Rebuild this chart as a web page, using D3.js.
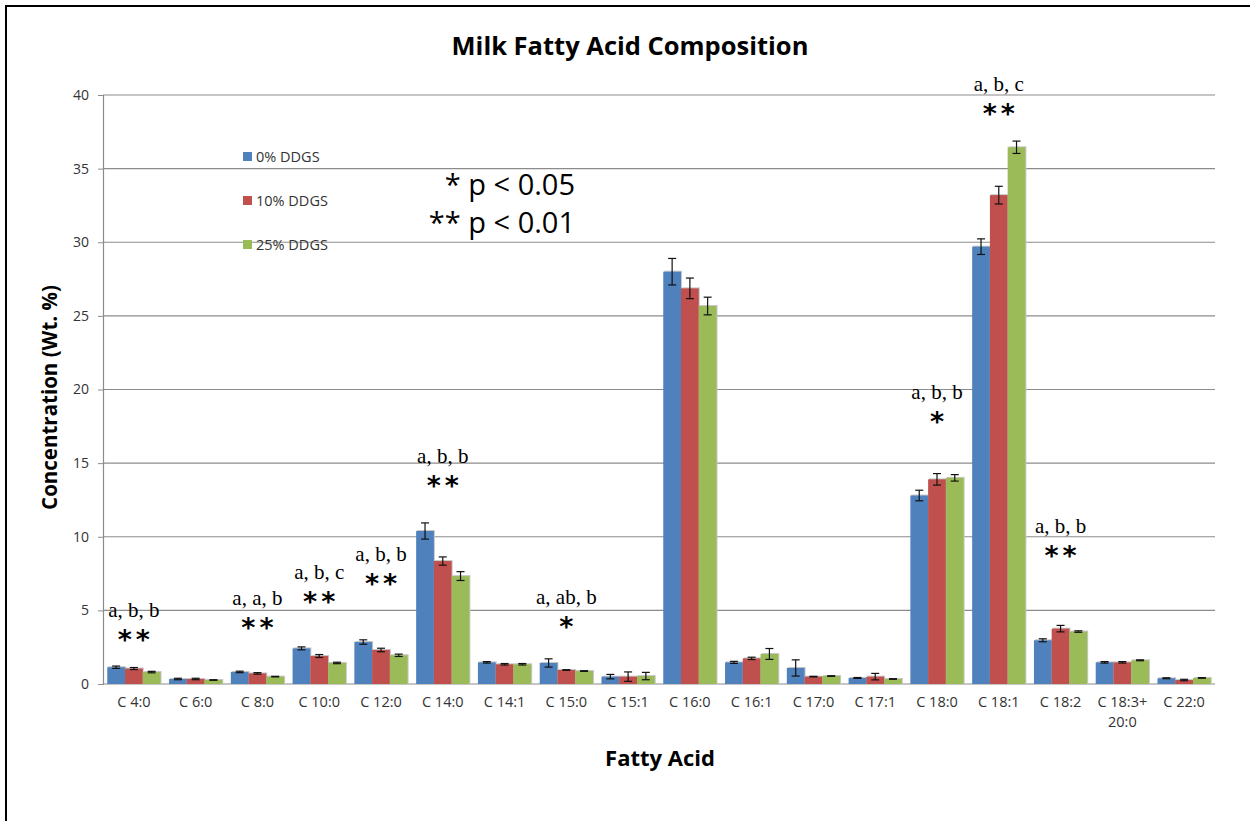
<!DOCTYPE html>
<html>
<head>
<meta charset="utf-8">
<script src="https://cdn.jsdelivr.net/npm/d3@7"></script>
<style>
    body { margin: 0; background: #fff; }
    svg { display: block; }
</style>
</head>
<body>
<div id="chart"></div>
<script>
const categories = ["C 4:0", "C 6:0", "C 8:0", "C 10:0", "C 12:0", "C 14:0", "C 14:1", "C 15:0", "C 15:1",
    "C 16:0", "C 16:1", "C 17:0", "C 17:1", "C 18:0", "C 18:1", "C 18:2", "C 18:3+\n20:0", "C 22:0"];
const series_names = ["0% DDGS", "10% DDGS", "25% DDGS"];
const series_colors = ["#4f81bd", "#c0504d", "#9bbb59"];

const values_0 = [1.14, 0.34, 0.82, 2.42, 2.85, 10.39, 1.47, 1.43, 0.5, 28.0, 1.47, 1.09, 0.41, 12.8, 29.7, 2.97, 1.47, 0.39];
const values_10 = [1.05, 0.34, 0.72, 1.9, 2.31, 8.35, 1.34, 0.95, 0.5, 26.87, 1.74, 0.5, 0.5, 13.9, 33.2, 3.76, 1.47, 0.27];
const values_25 = [0.81, 0.27, 0.5, 1.43, 1.95, 7.33, 1.34, 0.88, 0.54, 25.67, 2.04, 0.54, 0.34, 14.0, 36.45, 3.56, 1.61, 0.41];

const errors_0 = [0.08, 0.05, 0.05, 0.1, 0.15, 0.55, 0.05, 0.28, 0.15, 0.9, 0.07, 0.55, 0.03, 0.36, 0.53, 0.1, 0.05, 0.03];
const errors_10 = [0.07, 0.05, 0.05, 0.1, 0.12, 0.28, 0.05, 0.02, 0.32, 0.7, 0.08, 0.02, 0.22, 0.39, 0.6, 0.22, 0.05, 0.05];
const errors_25 = [0.05, 0.02, 0.02, 0.05, 0.08, 0.3, 0.05, 0.02, 0.25, 0.6, 0.37, 0.02, 0.02, 0.22, 0.42, 0.05, 0.03, 0.02];

const y_ticks = [0, 5, 10, 15, 20, 25, 30, 35, 40];

// significance letters, stars and the level (in Wt. %) where the letters sit
const annot_cats = ["C 4:0", "C 8:0", "C 10:0", "C 12:0", "C 14:0", "C 15:0", "C 18:0", "C 18:1", "C 18:2"];
const annot_letters = ["a, b, b", "a, a, b", "a, b, c", "a, b, b", "a, b, b", "a, ab, b", "a, b, b", "a, b, c", "a, b, b"];
const annot_stars = ["**", "**", "**", "**", "**", "*", "*", "**", "**"];
const annot_levels = [4.96, 5.77, 7.54, 8.76, 15.42, 5.84, 19.76, 40.68, 10.66];

const W = 1250, H = 821;
const margin = { top: 95, right: 35, bottom: 137, left: 103 };
const width = W - margin.left - margin.right;
const height = H - margin.top - margin.bottom;

const svg_root = d3.select("#chart").append("svg")
    .attr("width", W)
    .attr("height", H);

// outer chart border (cropped at right/bottom)
svg_root.append("rect")
    .attr("x", 6).attr("y", 6)
    .attr("width", W + 50).attr("height", H + 50)
    .attr("fill", "none")
    .attr("stroke", "#000")
    .attr("stroke-width", 2);

const svg = svg_root.append("g")
    .attr("transform", `translate(${margin.left},${margin.top})`);

const x = d3.scaleBand()
    .domain(categories)
    .range([0, width]);

const x_inner = d3.scaleBand()
    .domain(series_names)
    .range([0, x.bandwidth()])
    .paddingInner(0)
    .paddingOuter(0.24);

const y = d3.scaleLinear()
    .domain([0, 40])
    .range([height, 0]);

// gridlines
svg.append("g")
    .selectAll("line")
    .data(y_ticks.filter(d => d > 0))
    .enter().append("line")
    .attr("x1", 0).attr("x2", width)
    .attr("y1", d => y(d)).attr("y2", d => y(d))
    .attr("stroke", "#8c8c8c")
    .attr("stroke-width", 1.2);

// y axis
const y_axis = svg.append("g")
    .call(d3.axisLeft(y).tickValues(y_ticks).tickSize(5).tickPadding(9));
y_axis.select(".domain").attr("stroke", "#8c8c8c").attr("stroke-width", 1.2);
y_axis.selectAll(".tick line").attr("stroke", "#8c8c8c");
y_axis.selectAll("text")
    .style("font-family", "'Open Sans', sans-serif")
    .style("font-size", "14px")
    .style("fill", "#333");

// x axis line
svg.append("line")
    .attr("x1", 0).attr("x2", width)
    .attr("y1", height).attr("y2", height)
    .attr("stroke", "#8c8c8c")
    .attr("stroke-width", 1.2);

// x labels
const x_labels = svg.append("g")
    .selectAll("text")
    .data(categories)
    .enter().append("text")
    .attr("x", d => x(d) + x.bandwidth() / 2)
    .attr("y", height + 23)
    .attr("text-anchor", "middle")
    .style("font-family", "'Open Sans', sans-serif")
    .style("font-size", "14.5px")
    .style("fill", "#333");
x_labels.each(function (d) {
    const lines = d.split("\n");
    d3.select(this).selectAll("tspan")
        .data(lines)
        .enter().append("tspan")
        .attr("x", x(d) + x.bandwidth() / 2)
        .attr("dy", (l, i) => i === 0 ? 0 : 20)
        .text(l => l);
});

// bars
const all_values = [values_0, values_10, values_25];
const all_errors = [errors_0, errors_10, errors_25];
const bar_data = [];
categories.forEach((c, i) => {
    series_names.forEach((s, j) => {
        bar_data.push({ cat: c, series: s, idx: j, value: all_values[j][i], err: all_errors[j][i] });
    });
});

svg.selectAll(".bar-shadow")
    .data(bar_data)
    .enter().append("rect")
    .attr("class", "bar-shadow")
    .attr("x", d => x(d.cat) + x_inner(d.series) + 1)
    .attr("y", d => y(d.value) - 1)
    .attr("width", x_inner.bandwidth())
    .attr("height", d => height - y(d.value) + 1)
    .attr("fill", "#c8c8c8");

svg.selectAll(".bar")
    .data(bar_data)
    .enter().append("rect")
    .attr("class", "bar")
    .attr("x", d => x(d.cat) + x_inner(d.series))
    .attr("y", d => y(d.value))
    .attr("width", x_inner.bandwidth())
    .attr("height", d => height - y(d.value))
    .attr("fill", d => series_colors[d.idx]);

// error bars
const err_g = svg.append("g")
    .attr("stroke", "#111")
    .attr("stroke-width", 1.2);
bar_data.forEach(d => {
    const cx = x(d.cat) + x_inner(d.series) + x_inner.bandwidth() / 2;
    const y1 = y(d.value + d.err), y2 = y(d.value - d.err);
    err_g.append("line").attr("x1", cx).attr("x2", cx).attr("y1", y1).attr("y2", y2);
    err_g.append("line").attr("x1", cx - 4).attr("x2", cx + 4).attr("y1", y1).attr("y2", y1);
    err_g.append("line").attr("x1", cx - 4).attr("x2", cx + 4).attr("y1", y2).attr("y2", y2);
});

// significance annotations
annot_cats.forEach((c, i) => {
    const cx = x(c) + x.bandwidth() / 2;
    const ly = y(annot_levels[i]);
    svg.append("text")
        .attr("x", cx)
        .attr("y", ly + 6)
        .attr("text-anchor", "middle")
        .style("font-family", "'Liberation Serif', 'DejaVu Serif', serif")
        .style("font-size", "21px")
        .style("fill", "#000")
        .text(annot_letters[i]);
    svg.append("text")
        .attr("x", cx + 2)
        .attr("y", ly + 38)
        .attr("text-anchor", "middle")
        .style("font-family", "'DejaVu Sans', sans-serif")
        .style("font-weight", "bold")
        .style("font-size", "27px")
        .style("letter-spacing", "4px")
        .style("fill", "#000")
        .text(annot_stars[i]);
});

// legend
const legend = svg_root.append("g");
series_names.forEach((s, i) => {
    const ly = 157 + i * 44;
    legend.append("rect")
        .attr("x", 243).attr("y", ly - 5)
        .attr("width", 9).attr("height", 9)
        .attr("fill", series_colors[i]);
    legend.append("text")
        .attr("x", 256).attr("y", ly + 5)
        .style("font-family", "'Open Sans', sans-serif")
        .style("font-size", "14.5px")
        .style("fill", "#333")
        .text(s);
});

// p-value key
[["* p < 0.05", 195], ["** p < 0.01", 233]].forEach(([t, ty]) => {
    svg_root.append("text")
        .attr("x", 575).attr("y", ty)
        .attr("text-anchor", "end")
        .style("font-family", "'Open Sans', sans-serif")
        .style("font-size", "29px")
        .style("fill", "#000")
        .text(t);
});

// title and axis titles
svg_root.append("text")
    .attr("x", 630).attr("y", 55)
    .attr("text-anchor", "middle")
    .style("font-family", "'Open Sans', sans-serif")
    .style("font-weight", "bold")
    .style("font-size", "25.5px")
    .text("Milk Fatty Acid Composition");

svg_root.append("text")
    .attr("transform", `translate(57,${margin.top + height / 2 + 8}) rotate(-90)`)
    .attr("text-anchor", "middle")
    .style("font-family", "'Open Sans', sans-serif")
    .style("font-weight", "bold")
    .style("font-size", "20.5px")
    .text("Concentration (Wt. %)");

svg_root.append("text")
    .attr("x", 660).attr("y", 766)
    .attr("text-anchor", "middle")
    .style("font-family", "'Open Sans', sans-serif")
    .style("font-weight", "bold")
    .style("font-size", "22px")
    .text("Fatty Acid");
</script>
</body>
</html>
